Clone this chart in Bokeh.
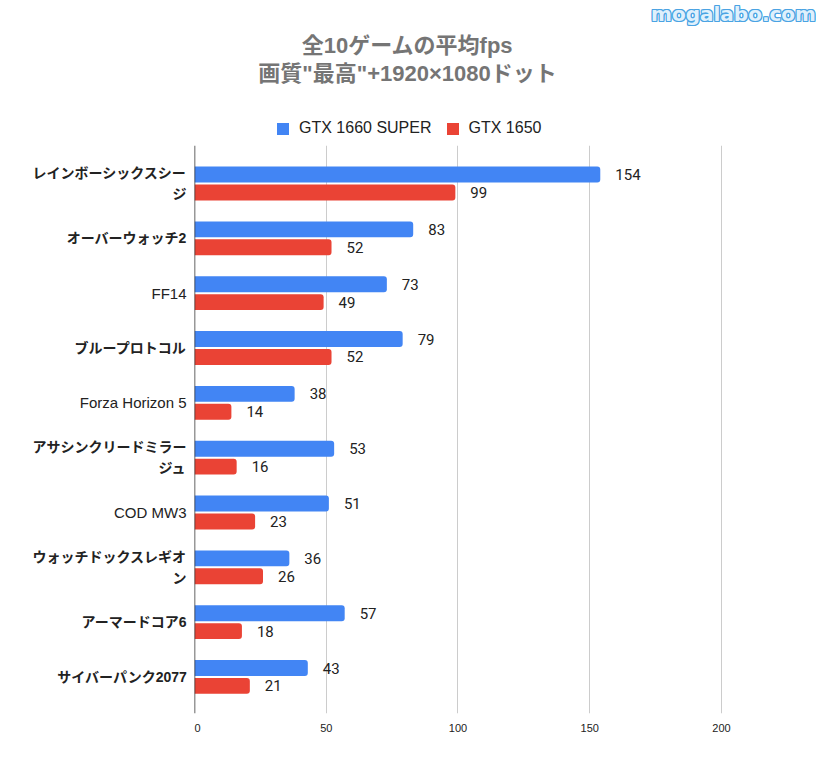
from bokeh.plotting import figure
from bokeh.models import (ColumnDataSource, Range1d, FixedTicker, Span, Legend, LegendItem)
from bokeh.layouts import column, row
from bokeh.core.properties import value
from bokeh.embed import file_html
from bokeh.resources import INLINE

# ---------------- data ----------------
games = ["レインボーシックスシー\nジ", "オーバーウォッチ2", "FF14", "ブループロトコル",
         "Forza Horizon 5", "アサシンクリードミラー\nジュ", "COD MW3",
         "ウォッチドックスレギオ\nン", "アーマードコア6", "サイバーパンク2077"]
gtx1660s = [154, 83, 73, 79, 38, 53, 51, 36, 57, 43]
gtx1650 = [99, 52, 49, 52, 14, 16, 23, 26, 18, 21]
series_names = ["GTX 1660 SUPER", "GTX 1650"]
series_colors = ["#4285F4", "#EA4335"]
x_ticks = [0, 50, 100, 150, 200]
title_lines = ["全10ゲームの平均fps", "画質\"最高\"+1920×1080ドット"]
watermark = "mogalabo.com"

# ---------------- layout constants ----------------
W, H = 816, 771
TOP_H = 145            # title / legend band
LEFT_W = 194           # category label band
MAIN_W = W - LEFT_W
MAIN_H = H - TOP_H
FRAME_W = 581
FRAME_BOTTOM_BORDER = 58
OFF = 0.163
BAR_H = 0.29
CJK_FONT = "'Liberation Sans', 'Noto Sans CJK JP'"

pos = list(range(len(games)))
yr = Range1d(9.666, -0.693)

# ---------------- main chart ----------------
src = ColumnDataSource(dict(
    y1=[i - OFF for i in pos], y2=[i + OFF for i in pos],
    v1=gtx1660s, v2=gtx1650,
    t1=[str(v) for v in gtx1660s], t2=[str(v) for v in gtx1650],
))

p = figure(width=MAIN_W, height=MAIN_H, x_range=Range1d(0, 220.5), y_range=yr,
           output_backend="svg", toolbar_location=None, title_location=None,
           min_border_left=0, min_border_right=MAIN_W - FRAME_W,
           min_border_top=0, min_border_bottom=FRAME_BOTTOM_BORDER)
p.outline_line_color = None
p.yaxis.visible = False

p.xaxis.ticker = FixedTicker(ticks=x_ticks)
p.xaxis.axis_line_color = None
p.xaxis.major_tick_line_color = None
p.xaxis.minor_tick_line_color = None
p.xaxis.major_label_text_font = "Liberation Sans"
p.xaxis.major_label_text_font_size = "11px"
p.xaxis.major_label_text_color = "#222222"
p.xaxis.major_label_standoff = 4

p.xgrid.grid_line_color = "#cccccc"
p.ygrid.visible = False

p.hbar(y="y1", left=0, right="v1", height=BAR_H, source=src,
       fill_color=series_colors[0], line_color=None, border_radius=(0, 3, 3, 0))
p.hbar(y="y2", left=0, right="v2", height=BAR_H, source=src,
       fill_color=series_colors[1], line_color=None, border_radius=(0, 3, 3, 0))

p.add_layout(Span(location=0, dimension="height", line_color="#333333", line_width=1.5))

for xcol, ycol, tcol in (("v1", "y1", "t1"), ("v2", "y2", "t2")):
    p.text(x=xcol, y=ycol, text=tcol, source=src, x_offset=15,
           text_baseline="middle", text_align="left",
           text_font=value("Roboto"), text_font_size="15px", text_color="#222222")

# ---------------- category labels ----------------
lp = figure(width=LEFT_W, height=MAIN_H, x_range=Range1d(0, LEFT_W), y_range=yr,
            output_backend="svg", toolbar_location=None, title_location=None,
            min_border_left=0, min_border_right=0, min_border_top=0,
            min_border_bottom=FRAME_BOTTOM_BORDER)
lp.axis.visible = False
lp.grid.visible = False
lp.outline_line_color = None

is_latin = [all(ord(c) < 128 for c in g) for g in games]
for latin in (True, False):
    idx = [i for i in pos if is_latin[i] == latin]
    csrc = ColumnDataSource(dict(y=idx, name=[games[i] for i in idx], x=[LEFT_W] * len(idx)))
    lp.text(x="x", y="y", text="name", source=csrc, x_offset=-8,
            text_align="right", text_baseline="middle",
            text_font=value(CJK_FONT), text_font_size="15px" if latin else "14px",
            text_color="#222222",
            text_font_style="normal" if latin else "bold", text_line_height=1.3)

# ---------------- title / legend band ----------------
tp = figure(width=W, height=TOP_H, x_range=Range1d(0, W), y_range=Range1d(TOP_H, 0),
            output_backend="svg", toolbar_location=None, title_location=None,
            min_border=0)
tp.axis.visible = False
tp.grid.visible = False
tp.outline_line_color = None

tsrc = ColumnDataSource(dict(x=[407, 407], y=[45, 73], text=title_lines))
tp.text(x="x", y="y", text="text", source=tsrc, text_align="center", text_baseline="middle",
        text_font=value(CJK_FONT), text_font_size="22px", text_font_style="bold",
        text_color="#757575")

wsrc = ColumnDataSource(dict(x=[733], y=[13], text=[watermark]))
for dx, dy in ((-1, -1), (-1, 0), (-1, 1), (0, -1), (0, 1), (1, -1), (1, 0), (1, 1)):
    tp.text(x="x", y="y", text="text", source=wsrc, x_offset=dx, y_offset=dy,
            text_align="center", text_baseline="middle",
            text_font=value("DejaVu Sans"), text_font_size="20px", text_font_style="bold",
            text_color="#4aa3e3")
tp.text(x="x", y="y", text="text", source=wsrc, text_align="center", text_baseline="middle",
        text_font=value("DejaVu Sans"), text_font_size="20px", text_font_style="bold",
        text_color="#dff0fc")

# legend swatches: one off-canvas zero-size bar per series, used only for the legend glyph
items = []
for name, color in zip(series_names, series_colors):
    r = tp.hbar(y=[-1000], left=[0], right=[0], height=1, fill_color=color, line_color=None)
    items.append(LegendItem(label=name, renderers=[r]))
legend = Legend(items=items, orientation="horizontal", location=(275, 8),
                glyph_width=15, glyph_height=15, label_standoff=9, spacing=13,
                padding=0, margin=0, border_line_color=None, background_fill_alpha=0,
                label_text_font="Liberation Sans", label_text_font_size="16px",
                label_text_color="#222222")
tp.add_layout(legend)

layout = column(tp, row(lp, p))
open("out.html", "w").write(file_html(layout, INLINE))
